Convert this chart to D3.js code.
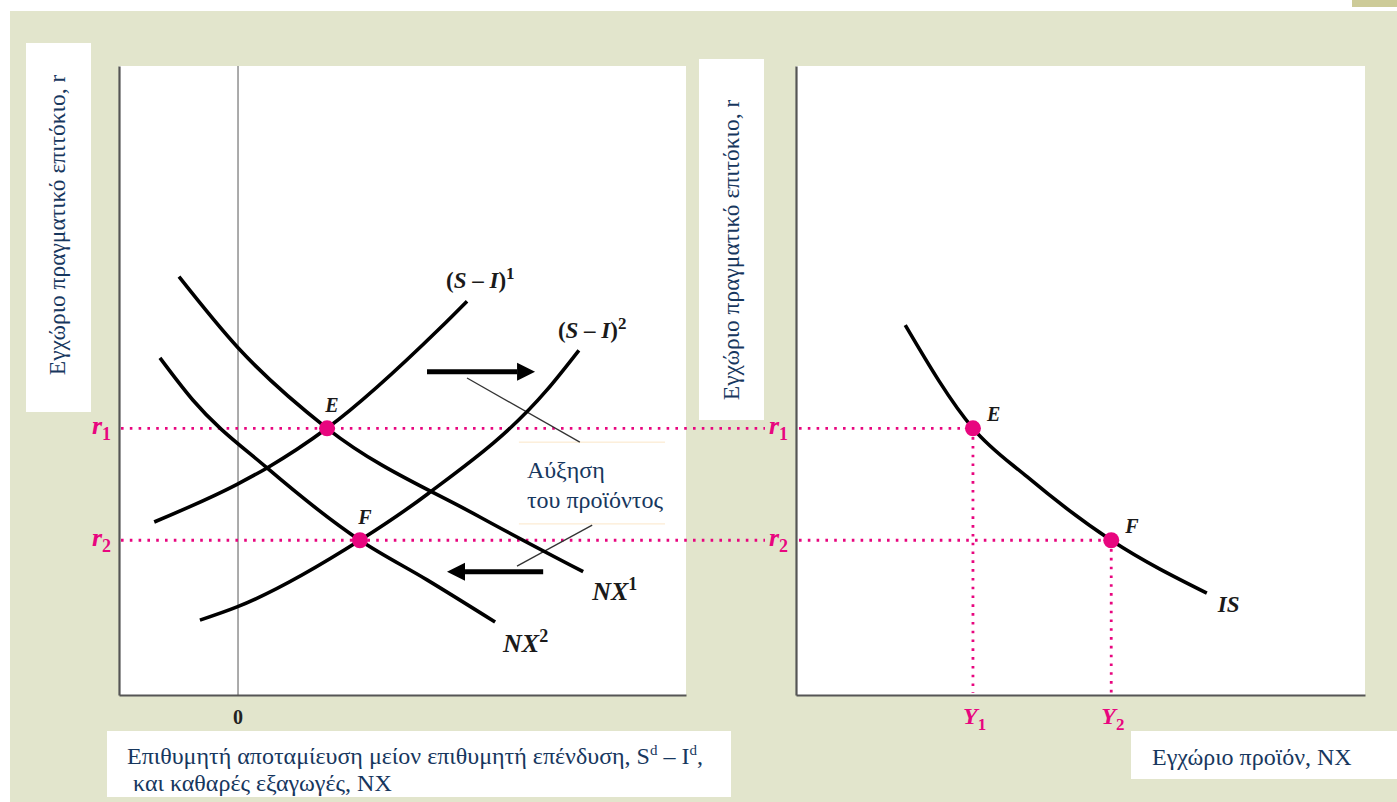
<!DOCTYPE html>
<html>
<head>
<meta charset="utf-8">
<script src="https://cdn.jsdelivr.net/npm/d3@7"></script>
<style>
  body { margin: 0; background: #fff; }
  svg { display: block; font-family: "Liberation Serif", "Times New Roman", serif; }
</style>
</head>
<body>
<svg id="chart" width="1397" height="802"></svg>
<script>
var nx1 = [[-12.4, 66.5], [0, 55.2], [18.7, 42.4], [50.8, 28.3], [72.5, 19.6]];
var nx2 = [[-16.4, 53.6], [-9.5, 46.9], [6.1, 36.1], [25.6, 24.6], [39.7, 18.3], [54.0, 11.6]];
var si1 = [[-17.6, 27.5], [-0.2, 33.5], [6.1, 36.1], [18.7, 42.4], [42.4, 58.3], [48.1, 62.6]];
var si2 = [[-8.0, 11.9], [-0.2, 14.0], [25.6, 24.6], [39.9, 32.0], [64.9, 48.5], [71.6, 54.8]];
var isCurve = [[19.2, 58.8], [31.1, 42.4], [40.6, 34.7], [55.4, 24.6], [72.2, 16.2]];

var rates = [42.4, 24.6];          // r1, r2
var rateNames = ["1", "2"];
var leftEq = [18.7, 25.6];         // E, F on left panel (x)
var outputs = [31.1, 55.4];        // Y1, Y2
var eqNames = ["E", "F"];

// arrows and leader lines (data units of the left panel)
var arrowsL = [{from: [39.7, 51.4], to: [62.4, 51.4]}, {from: [64.1, 19.6], to: [43.9, 19.6]}];
var leaders = [[[48.1, 50.4], [71.8, 40.2]], [[58.6, 20.5], [74.4, 27.0]]];
var noteBox = {x0: 59.0, x1: 89.7, y0: 40.2, y1: 27.2};
var noteLines = ["Αύξηση", "του προϊόντος"];

var yTitle = "Εγχώριο πραγματικό επιτόκιο, r";

var PINK = "#e8067f", NAVY = "#17375e", BG = "#e2e5cc";

var svg = d3.select("#chart");

var xL = d3.scaleLinear().domain([-25, 94.1]).range([119, 686]);
var xR = d3.scaleLinear().domain([0, 100]).range([796, 1365]);
var y = d3.scaleLinear().domain([0, 100]).range([695, 66]);

// background
svg.append("rect").attr("x", 10).attr("y", 11).attr("width", 1387).attr("height", 791).attr("fill", BG);
svg.append("rect").attr("x", 1352).attr("y", 0).attr("width", 45).attr("height", 7).attr("fill", "#cdcb98");

// white plot areas
[xL, xR].forEach(function(xs) {
  svg.append("rect")
    .attr("x", xs.range()[0]).attr("y", y(100))
    .attr("width", xs.range()[1] - xs.range()[0]).attr("height", y(0) - y(100))
    .attr("fill", "#fff");
});

// label boxes
function box(x, yy, w, h) {
  svg.append("rect").attr("x", x).attr("y", yy).attr("width", w).attr("height", h).attr("fill", "#fff");
}
box(26, 43, 65, 369);
box(699, 59, 65, 361);
box(107, 731, 624, 66);
box(1131, 731, 266, 48);

// zero line
svg.append("line")
  .attr("x1", xL(0)).attr("x2", xL(0)).attr("y1", y(0)).attr("y2", y(100))
  .attr("stroke", "#8f8f8f").attr("stroke-width", 1.5);

// axes (no ticks)
[xL, xR].forEach(function(xs) {
  svg.append("g").attr("transform", "translate(0," + y(0) + ")")
    .call(d3.axisBottom(xs).tickValues([]).tickSizeOuter(0))
    .select(".domain").attr("stroke", "#555").attr("stroke-width", 2.2);
  svg.append("g").attr("transform", "translate(" + xs.range()[0] + ",0)")
    .call(d3.axisLeft(y).tickValues([]).tickSizeOuter(0))
    .select(".domain").attr("stroke", "#555").attr("stroke-width", 2.2);
});

// dotted guide lines
function dotted(x1, y1, x2, y2) {
  svg.append("line").attr("x1", x1).attr("y1", y1).attr("x2", x2).attr("y2", y2)
    .attr("stroke", PINK).attr("stroke-width", 2.8).attr("stroke-dasharray", "2.6 6.2");
}
rates.forEach(function(r, i) {
  dotted(xL.range()[0] + 2, y(r), 765, y(r));
  dotted(xR.range()[0] + 3, y(r), xR(outputs[i]), y(r));
  dotted(xR(outputs[i]), y(r), xR(outputs[i]), y(0) - 2);
});

// annotation box
svg.append("rect")
  .attr("x", xL(noteBox.x0)).attr("y", y(noteBox.y0))
  .attr("width", xL(noteBox.x1) - xL(noteBox.x0)).attr("height", y(noteBox.y1) - y(noteBox.y0))
  .attr("fill", "#fff");
[noteBox.y0, noteBox.y1].forEach(function(v) {
  svg.append("line").attr("x1", xL(noteBox.x0)).attr("x2", xL(noteBox.x1))
    .attr("y1", y(v)).attr("y2", y(v)).attr("stroke", "#fbe6c8").attr("stroke-width", 1);
});
svg.append("text").attr("fill", NAVY).style("font-size", "24px")
  .selectAll("tspan").data(noteLines).enter().append("tspan")
  .attr("x", xL(noteBox.x0) + 8)
  .attr("y", function(d, i) { return y(noteBox.y0) + 36 + i * 30; })
  .text(function(d) { return d; });

// leader lines
leaders.forEach(function(l) {
  svg.append("line")
    .attr("x1", xL(l[0][0])).attr("y1", y(l[0][1]))
    .attr("x2", xL(l[1][0])).attr("y2", y(l[1][1]))
    .attr("stroke", "#333").attr("stroke-width", 1.3);
});

// curves
var lineL = d3.line().x(function(d) { return xL(d[0]); }).y(function(d) { return y(d[1]); }).curve(d3.curveMonotoneX);
var lineR = d3.line().x(function(d) { return xR(d[0]); }).y(function(d) { return y(d[1]); }).curve(d3.curveMonotoneX);
[nx1, nx2, si1, si2].forEach(function(c) {
  svg.append("path").attr("d", lineL(c)).attr("fill", "none").attr("stroke", "#000").attr("stroke-width", 3.6);
});
svg.append("path").attr("d", lineR(isCurve)).attr("fill", "none").attr("stroke", "#000").attr("stroke-width", 3.6);

// arrows
arrowsL.forEach(function(a) {
  var x1 = xL(a.from[0]), x2 = xL(a.to[0]), yy = y(a.from[1]);
  var dir = x2 > x1 ? 1 : -1, head = 18;
  svg.append("line").attr("x1", x1).attr("x2", x2 - dir * head).attr("y1", yy).attr("y2", yy)
    .attr("stroke", "#000").attr("stroke-width", 5);
  svg.append("path")
    .attr("d", "M" + x2 + "," + yy + "L" + (x2 - dir * head) + "," + (yy - 9) + "L" + (x2 - dir * head) + "," + (yy + 9) + "Z")
    .attr("fill", "#000");
});

// equilibrium points
rates.forEach(function(r, i) {
  svg.append("circle").attr("cx", xL(leftEq[i])).attr("cy", y(r)).attr("r", 8).attr("fill", PINK);
  svg.append("circle").attr("cx", xR(outputs[i])).attr("cy", y(r)).attr("r", 8).attr("fill", PINK);
});

// curve labels
var lab = svg.append("g").style("font-weight", "bold").attr("fill", "#1a1a1a");
function siLabel(pt, sup, dx, dy) {
  var t = lab.append("text").attr("x", xL(pt[0]) + dx).attr("y", y(pt[1]) + dy).style("font-size", "23px");
  t.append("tspan").text("(");
  t.append("tspan").style("font-style", "italic").text("S");
  t.append("tspan").text(" – ");
  t.append("tspan").style("font-style", "italic").text("I");
  t.append("tspan").text(")");
  t.append("tspan").attr("dy", -9).style("font-size", "17px").text(sup);
}
siLabel(si1[si1.length - 1], "1", -21, -13);
siLabel(si2[si2.length - 1], "2", -21, -12);

function nxLabel(pt, sup, dx, dy) {
  var t = lab.append("text").attr("x", xL(pt[0]) + dx).attr("y", y(pt[1]) + dy)
    .style("font-size", "26px").style("font-style", "italic");
  t.append("tspan").text("NX");
  t.append("tspan").attr("dy", -10).style("font-size", "18px").style("font-style", "normal").text(sup);
}
nxLabel(nx1[nx1.length - 1], "1", 9, 28);
nxLabel(nx2[nx2.length - 1], "2", 8, 30);

lab.append("text")
  .attr("x", xR(isCurve[isCurve.length - 1][0]) + 11).attr("y", y(isCurve[isCurve.length - 1][1]) + 19)
  .style("font-size", "23px").style("font-style", "italic").text("IS");

// E / F labels
rates.forEach(function(r, i) {
  lab.append("text").attr("x", xL(leftEq[i]) + 5).attr("y", y(r) - 16)
    .attr("text-anchor", "middle").style("font-size", "20px").style("font-style", "italic").text(eqNames[i]);
  lab.append("text").attr("x", xR(outputs[i]) + 14).attr("y", y(r) - 7)
    .style("font-size", "20px").style("font-style", "italic").text(eqNames[i]);
});

// r labels
function rLabel(x, r, sub) {
  var t = svg.append("text").attr("x", x).attr("y", y(r) + 6).attr("text-anchor", "end")
    .attr("fill", PINK).style("font-weight", "bold").style("font-size", "26px");
  t.append("tspan").style("font-style", "italic").text("r");
  t.append("tspan").attr("dy", 6).style("font-size", "18px").text(sub);
}
rates.forEach(function(r, i) {
  rLabel(111, r, rateNames[i]);
  rLabel(788, r, rateNames[i]);
});

// Y labels
outputs.forEach(function(o, i) {
  var t = svg.append("text").attr("x", xR(o) - 10).attr("y", y(0) + 29)
    .attr("fill", PINK).style("font-weight", "bold").style("font-size", "24px");
  t.append("tspan").style("font-style", "italic").text("Y");
  t.append("tspan").attr("dy", 6).style("font-size", "17px").text(rateNames[i]);
});

// zero tick label
svg.append("text").attr("x", xL(0)).attr("y", y(0) + 29).attr("text-anchor", "middle")
  .style("font-weight", "bold").style("font-size", "20px").attr("fill", "#222").text("0");

// axis titles
svg.append("text").attr("transform", "translate(65,225) rotate(-90)").attr("text-anchor", "middle")
  .attr("fill", NAVY).style("font-size", "23.5px").text(yTitle);
svg.append("text").attr("transform", "translate(739,250) rotate(-90)").attr("text-anchor", "middle")
  .attr("fill", NAVY).style("font-size", "23.5px").text(yTitle);

var xt = svg.append("text").attr("fill", NAVY).style("font-size", "24px");
var l1 = xt.append("tspan").attr("x", 127).attr("y", 764);
l1.append("tspan").text("Επιθυμητή αποταμίευση μείον επιθυμητή επένδυση, S");
l1.append("tspan").attr("dy", -9).style("font-size", "15px").text("d");
l1.append("tspan").attr("dy", 9).text(" – I");
l1.append("tspan").attr("dy", -9).style("font-size", "15px").text("d");
l1.append("tspan").attr("dy", 9).text(",");
xt.append("tspan").attr("x", 127).attr("y", 791).text("\u00a0και καθαρές εξαγωγές, NX");

svg.append("text").attr("x", 1152).attr("y", 765).attr("fill", NAVY).style("font-size", "24px")
  .text("Εγχώριο προϊόν, NX");
</script>
</body>
</html>
